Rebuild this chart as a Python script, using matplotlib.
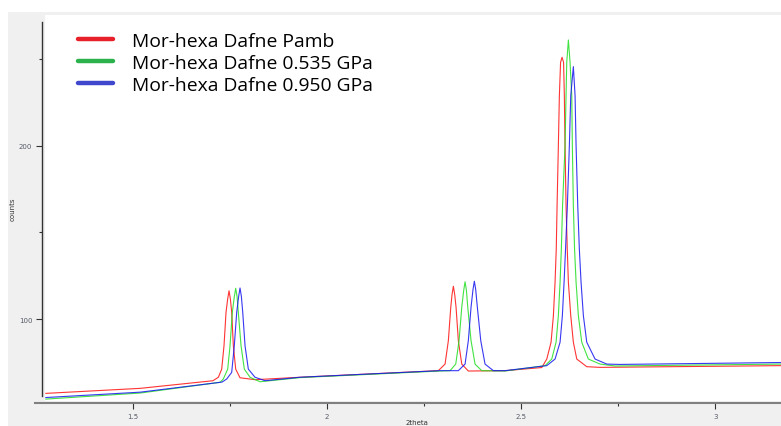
import matplotlib
matplotlib.use("Agg")
import matplotlib.pyplot as plt
from matplotlib.lines import Line2D
from matplotlib.patches import Rectangle
from matplotlib.ticker import MultipleLocator

# 2theta / counts
x_pamb = [1.277, 1.52, 1.707, 1.721, 1.7296, 1.7355, 1.7407, 1.7449, 1.7484, 1.7519, 1.7553, 1.7595,
          1.7656, 1.7767, 1.8153, 1.9311, 2.2871, 2.3044, 2.3129, 2.3191, 2.3223, 2.3258, 2.3293,
          2.3327, 2.3386, 2.3474, 2.3643, 2.4588, 2.5533, 2.5662, 2.5772, 2.5832, 2.5875, 2.5906,
          2.5927, 2.596, 2.5986, 2.6017, 2.6055, 2.6094, 2.6114, 2.6132, 2.6158, 2.6189, 2.6218,
          2.6279, 2.6346, 2.6434, 2.6691, 2.7033, 3.169]
y_pamb = [57.1, 60.0, 64.4, 66.4, 71.1, 84.6, 103.9, 111.5, 116.3, 111.5, 103.9, 84.6,
          71.1, 66.1, 65.0, 66.4, 70.2, 74.0, 87.5, 106.8, 114.0, 118.9, 114.0,
          106.8, 87.5, 74.0, 70.0, 70.2, 72.0, 76.9, 86.6, 101.9, 121.2, 140.4,
          165.4, 200.0, 228.9, 248.1, 251.0, 248.1, 228.9, 200.0, 165.4, 140.4, 121.2,
          101.9, 86.6, 76.9, 72.5, 72.1, 73.1]

x_0535 = [1.277, 1.52, 1.7252, 1.7337, 1.745, 1.751, 1.7569, 1.7621, 1.7656, 1.7691, 1.7723, 1.7793,
          1.7878, 1.8024, 1.8282, 1.9311, 2.2915, 2.3172, 2.3319, 2.3404, 2.3474, 2.3524, 2.3559,
          2.3594, 2.3628, 2.3713, 2.3816, 2.3988, 2.4588, 2.5618, 2.579, 2.5901, 2.596, 2.6004,
          2.6037, 2.6068, 2.6132, 2.6158, 2.6176, 2.6218, 2.6261, 2.6305, 2.632, 2.6346, 2.6377,
          2.6416, 2.6475, 2.6562, 2.6732, 2.7033, 2.742, 3.169]
y_0535 = [53.8, 57.3, 63.5, 65.4, 71.1, 84.6, 103.9, 113.0, 117.7, 113.0, 103.9, 84.6,
          71.1, 66.4, 63.8, 66.2, 70.0, 70.2, 74.0, 87.5, 106.8, 116.5, 121.5,
          116.5, 106.8, 87.5, 74.0, 70.2, 70.0, 73.1, 76.9, 86.6, 101.9, 121.2,
          140.4, 165.4, 200.0, 228.9, 248.1, 261.0, 248.1, 228.9, 200.0, 165.4, 140.4,
          121.2, 101.9, 86.6, 76.9, 74.0, 72.9, 74.0]

x_0950 = [1.277, 1.52, 1.7304, 1.7425, 1.7553, 1.762, 1.7682, 1.7732, 1.7767, 1.7802, 1.7837, 1.7896,
          1.7981, 1.8153, 1.841, 1.9311, 2.2915, 2.3386, 2.3559, 2.3643, 2.3713, 2.3763, 2.3798,
          2.3833, 2.3875, 2.3963, 2.4073, 2.4287, 2.4588, 2.5662, 2.5875, 2.6004, 2.6063, 2.6107,
          2.6145, 2.6192, 2.6243, 2.6279, 2.6346, 2.639, 2.6416, 2.6459, 2.65, 2.6544, 2.6604,
          2.6691, 2.6905, 2.7206, 2.7548, 3.169]
y_0950 = [54.7, 57.8, 63.6, 65.4, 69.2, 84.6, 103.9, 113.0, 117.9, 113.0, 103.9, 84.6,
          71.1, 66.4, 64.4, 66.4, 70.2, 70.2, 74.0, 87.5, 106.8, 117.0, 121.8,
          117.0, 106.8, 87.5, 74.0, 70.2, 70.2, 73.1, 76.9, 86.6, 101.9, 121.2,
          140.4, 165.4, 200.0, 228.9, 245.6, 228.9, 200.0, 165.4, 140.4, 121.2, 101.9,
          86.6, 76.9, 74.0, 73.8, 74.9]

labels = ["Mor-hexa Dafne Pamb", "Mor-hexa Dafne 0.535 GPa", "Mor-hexa Dafne 0.950 GPa"]
line_colors = ["#ff1010", "#22dd22", "#1515f0"]
legend_colors = ["#e8202a", "#2bb24c", "#3f48cc"]

W, H = 781, 427
fig = plt.figure(figsize=(W / 100, H / 100), dpi=100, facecolor="white")
fig.add_artist(Rectangle((8 / W, 0), 1, 1 - 13 / H, transform=fig.transFigure,
                         facecolor="#f0f0f0", edgecolor="none", zorder=0))

ax = fig.add_axes([45 / W, 25 / H, 736 / W, 386 / H])
ax.set_facecolor("white")
ax.set_zorder(1)

for xs, ys, c in zip([x_pamb, x_0535, x_0950], [y_pamb, y_0535, y_0950], line_colors):
    ax.plot(xs, ys, color=c, lw=0.8, alpha=0.85)

ax.set_xlim(1.2748, 3.169)
ax.set_ylim(52.7, 275.4)

for s in ["top", "right"]:
    ax.spines[s].set_visible(False)
ax.spines["left"].set_position(("outward", 2.2))
ax.spines["left"].set_bounds(55.6, 271.4)
ax.spines["left"].set_color("#333333")
ax.spines["left"].set_linewidth(1.0)
ax.spines["bottom"].set_position(("outward", 1.5))
ax.spines["bottom"].set_bounds(1.249, 3.169)
ax.spines["bottom"].set_color("#808080")
ax.spines["bottom"].set_linewidth(1.5)

ax.xaxis.set_major_locator(MultipleLocator(0.5))
ax.xaxis.set_minor_locator(MultipleLocator(0.25))
ax.yaxis.set_major_locator(MultipleLocator(100))
ax.yaxis.set_minor_locator(MultipleLocator(50))
ax.tick_params(axis="both", which="major", labelsize=5, labelcolor="#555a66", color="#333333",
               width=0.8, length=4.5, pad=2.5)
ax.tick_params(axis="both", which="minor", color="#333333", width=0.8, length=2)
ax.xaxis.set_major_formatter(plt.FuncFormatter(lambda v, p: f"{v:g}"))

fig.text(13 / W, 1 - 209 / H, "counts", rotation=90, ha="center", va="center",
         fontsize=5, color="#333333")
fig.text(417 / W, 1 - 426.5 / H, "2theta", ha="center", va="bottom", fontsize=5, color="#333333")

handles = [Line2D([0], [0], color=c, lw=3.2, solid_capstyle="round") for c in legend_colors]
ax.legend(handles, labels, loc="upper left", bbox_to_anchor=(78 / W, 1 - 33 / H),
          bbox_transform=fig.transFigure, frameon=False, borderpad=0, borderaxespad=0,
          handlelength=1.82, handletextpad=1.0, labelspacing=0.2,
          prop={"family": "Open Sans", "size": 13.85})

fig.savefig("out.png", dpi=100, facecolor=fig.get_facecolor())
